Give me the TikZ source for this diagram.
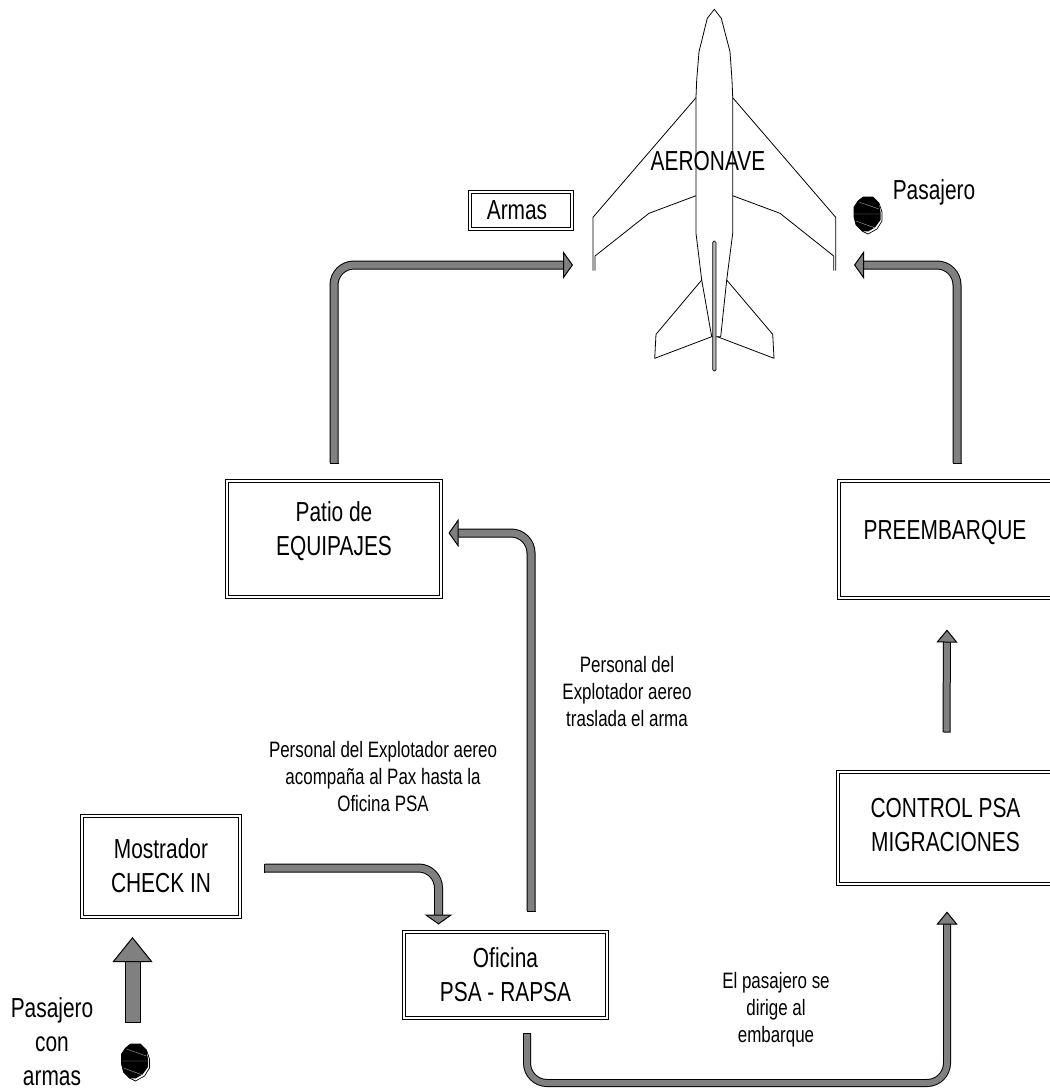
\documentclass[tikz,border=0pt]{standalone}
\usepackage{fontspec}
\setmainfont[FakeStretch=0.76]{Liberation Sans}
\usetikzlibrary{arrows.meta}
\tikzset{
  bigtext/.style={font=\fontsize{27.5}{34}\selectfont,align=center,inner sep=0pt},
  smalltext/.style={font=\fontsize{22.3}{27}\selectfont,align=center,inner sep=0pt},
  dblbox/.style={draw=black,line width=1pt,double=white,double distance=2pt,inner sep=0pt,align=center,font=\fontsize{27.5}{34}\selectfont},
  pipebase/.style={draw=black,line width=1pt,double=gray,rounded corners=20pt},
  pipewide/.style={pipebase,double distance=7pt,{Bar[width=9pt,length=1pt,line width=1pt]}-{Triangle[width=28pt,length=10pt,line width=1pt,fill=gray,color=black]}},
  pipethin/.style={pipebase,double distance=6pt,{Bar[width=8pt,length=1pt,line width=1pt]}-{Triangle[width=21pt,length=13pt,line width=1pt,fill=gray,color=black]}},
  pipefat/.style={pipebase,double distance=14pt,{Bar[width=16pt,length=1pt,line width=1pt]}-{Triangle[width=40pt,length=25pt,line width=1pt,fill=gray,color=black]}},
  planeline/.style={draw=black,line width=0.8pt,line join=round},
  blob/.pic={
    \path[fill=white,draw=black,line width=0.7pt] (-5,-18)--(5,-18)--(11,-12)--(14,-3)--(14,6)--(9,14)--(0,19)--(-6,16)--(-12,10)--(-14,2)--(-14,-8)--(-10,-14)--cycle;
    \path[fill=black] (-5,-18)--(5,-18)--(11,-12)--(12.5,-3)--(12.5,5)--(7,12.5)--(0,16.5)--(-6,16)--(-12,10)--(-14,2)--(-14,-8)--(-10,-14)--cycle;
    \draw[gray!70,line width=0.4pt] (-14,-1)--(13,-1) (-9,-13)--(11,-6) (-12,6)--(7,13);
  }
}
\begin{document}
\begin{tikzpicture}[x=1pt,y=-1pt]
\useasboundingbox (0,0) rectangle (1050,1088);
\clip (0,0) rectangle (1050,1088);

% aircraft
\path[planeline] (714.3,9.3)--(707.3,18.3)--(699,51.7)--(696.7,80)--(696,97)--(696,233.3)--(701.7,280)--(711.7,336.7)--(717.7,336.7)--(720.7,336.7)--(726.7,280)--(732.7,233.3)--(732.7,97)--(732,80)--(730,51.7)--(721.3,18.3)--cycle;
\draw[planeline] (696,97.7)--(593,217.3)--(593,270.7);
\draw[planeline] (696,195.7)--(649,213.3)--(595,256)--(595,270.7);
\draw[planeline] (732.7,97.7)--(835.7,217.3)--(835.7,270.7);
\draw[planeline] (732.7,195.7)--(780,213.3)--(833.7,256)--(833.7,270.7);
\draw[planeline] (701.7,280)--(656,334.3)--(654.7,358.3)--(711.7,336.7);
\draw[planeline] (726.7,280)--(772.7,334.3)--(774,358.3)--(717.3,336.7);
\draw[black,line width=0.7pt,fill=gray!55,rounded corners=1.5pt] (712.7,241) rectangle (716,371);
\node[bigtext] (aeronave) at (708,161) {AERONAVE};

% boxes
\node[dblbox,minimum width=102pt,minimum height=37pt] (armas) at (521,210.5) {};
\node[bigtext] (armastext) at (517,210) {Armas};
\node[dblbox,minimum width=214pt,minimum height=116pt] (patio) at (334,539) {};
\node[bigtext] (patiotext) at (334,531) {Patio de\\EQUIPAJES};
\node[dblbox,minimum width=214pt,minimum height=117pt] (preemb) at (946,539.5) {};
\node[bigtext] (preembtext) at (945,532) {PREEMBARQUE};
\node[dblbox,minimum width=215pt,minimum height=112pt] (control) at (945.5,828) {};
\node[bigtext] (controltext) at (945.5,825) {CONTROL PSA\\MIGRACIONES};
\node[dblbox,minimum width=158pt,minimum height=101pt] (mostrador) at (161,866) {Mostrador\\CHECK IN};
\node[dblbox,minimum width=203pt,minimum height=86pt] (oficina) at (505.5,975) {Oficina\\PSA - RAPSA};

% free labels
\node[smalltext] (lblacomp) at (383,777) {Personal del Explotador aereo\\acompaña al Pax hasta la\\Oficina PSA};
\node[smalltext] (lbltras) at (627,692) {Personal del\\Explotador aereo\\traslada el arma};
\node[smalltext] (lbldirige) at (776,1010) {El pasajero se\\dirige al\\embarque};
\node[bigtext] (lblpaxa) at (52,1042) {Pasajero\\con\\armas};
\node[bigtext] (lblpax) at (934,192) {Pasajero};

% passenger marks
\pic at (135.5,1062) {blob};
\pic at (868,215) {blob};

% free ends of connectors
\coordinate (portL) at (573,265);
\coordinate (portR) at (854,265);

% connectors
\draw[pipewide,shorten <=17pt] (patio.north) |- (portL);
\draw[pipewide,shorten <=17pt] (preemb.north -| 957,0) |- (portR);
\draw[pipewide] ([xshift=25.5pt,yshift=20pt]oficina.north) |- ([xshift=7pt,yshift=6pt]patio.east);
\draw[pipewide] (264,868) -| ([xshift=-67pt,yshift=7pt]oficina.north);
\draw[pipethin] ([xshift=21.5pt,yshift=-14pt]oficina.south) |- (947,1083) -- ([xshift=1.5pt,yshift=-27pt]control.south);
\draw[pipethin,rounded corners=0pt] ([yshift=39pt,xshift=1pt]control.north) -- ([xshift=1pt,yshift=-31pt]preemb.south);
\draw[pipefat,rounded corners=0pt] ([xshift=-28.5pt,yshift=-20pt]mostrador.south) ++(0,86) -- ++(0,-86);
\end{tikzpicture}
\end{document}
